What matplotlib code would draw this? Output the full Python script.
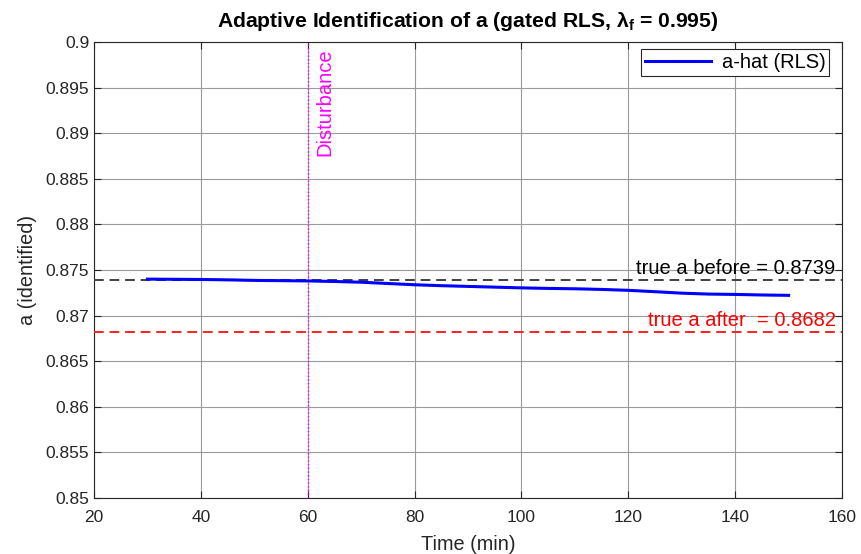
import numpy as np
import matplotlib
matplotlib.use('Agg')
from matplotlib import pyplot as plt

# estimated RLS estimate of a over time
t_min = [30, 35, 40, 45, 50, 55, 60, 65, 70, 75, 80, 85, 90, 95, 100,
         105, 110, 115, 120, 125, 130, 135, 140, 145, 150]
a_hat = [0.87400, 0.87398, 0.87396, 0.87392, 0.87386, 0.87383, 0.87380,
         0.87374, 0.87366, 0.87352, 0.87338, 0.87328, 0.87320, 0.87312,
         0.87304, 0.87298, 0.87294, 0.87287, 0.87277, 0.87262, 0.87246,
         0.87236, 0.87232, 0.87226, 0.87222]
a_before = 0.8739
a_after = 0.8682
t_dist = 60
xticks = [20, 40, 60, 80, 100, 120, 140, 160]
yticks = [0.85, 0.855, 0.86, 0.865, 0.87, 0.875, 0.88, 0.885, 0.89, 0.895, 0.9]
ytick_labels = ['0.85', '0.855', '0.86', '0.865', '0.87', '0.875', '0.88',
                '0.885', '0.89', '0.895', '0.9']

plt.rcParams['font.family'] = ['Liberation Sans', 'DejaVu Sans']
plt.rcParams['mathtext.fontset'] = 'custom'
plt.rcParams['mathtext.rm'] = 'Liberation Sans'
plt.rcParams['mathtext.bf'] = 'Liberation Sans:bold'

fig = plt.figure(figsize=(8.61, 5.54), dpi=100)
ax = fig.add_axes([0.1092, 0.1011, 0.8688, 0.8231])

ax.plot(t_min, a_hat, color='#0000ff', lw=2.2, label='a-hat (RLS)', zorder=4)
ax.axhline(a_before, color='#404040', ls=(0, (5, 3)), lw=1.4, zorder=3)
ax.axhline(a_after, color='#ff2020', ls=(0, (5, 3)), lw=1.4, zorder=3)
ax.axvline(t_dist, color='#ff00ff', ls=':', lw=1.0, zorder=3)

ax.text(t_dist + 3.2, 0.8993, 'Disturbance', color='#ff00ff', rotation=90,
        ha='center', va='top', fontsize=14.5)
ax.text(158.8, a_before + 0.0002, 'true a before = %.4f' % a_before,
        color='black', ha='right', va='bottom', fontsize=14.5)
ax.text(158.8, a_after + 0.0002, 'true a after  = %.4f' % a_after,
        color='#ff0000', ha='right', va='bottom', fontsize=14.5)

ax.set_xlim(20, 160)
ax.set_ylim(0.85, 0.9)
ax.set_xticks(xticks)
ax.set_yticks(yticks)
ax.set_yticklabels(ytick_labels)
ax.grid(True, color='#9a9a9a', lw=0.8)
ax.tick_params(direction='in', top=True, right=True, labelsize=12.5,
               colors='#262626', length=5, width=0.8)
ax.tick_params(axis='x', pad=9)
for s in ax.spines.values():
    s.set_color('#262626')
    s.set_linewidth(0.8)

ax.set_xlabel('Time (min)', fontsize=14.3, color='#262626', labelpad=7)
ax.set_ylabel('a (identified)', fontsize=14.3, color='#262626', labelpad=6.5)
ax.set_title(r'Adaptive Identification of a (gated RLS, λ$_\mathbf{f}$ = 0.995)',
             fontsize=15.2, fontweight='bold', pad=11)

leg = ax.legend(loc='upper right', fontsize=14.5, fancybox=False,
                framealpha=1, edgecolor='#262626', borderpad=0.2,
                handlelength=3.3, handletextpad=0.5, borderaxespad=0.3,
                bbox_to_anchor=(0.991, 0.998))
leg.get_frame().set_linewidth(0.8)

fig.savefig('out.png', dpi=100)
